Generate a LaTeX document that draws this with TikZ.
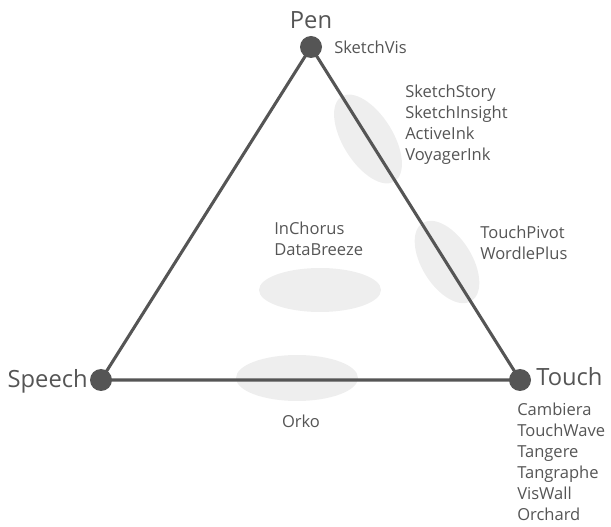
\documentclass[tikz,border=0pt]{standalone}
\usepackage{fontspec}
\setmainfont{Open Sans}
\begin{document}
\begin{tikzpicture}[x=0.75pt,y=-0.75pt,
  vert/.style={circle,fill=linec,inner sep=0pt,minimum size=16.5pt},
  edge/.style={draw=linec,line width=2.3pt},
  blob/.style={fill=blobc,draw=none},
  lbl/.style={text=textc,font=\fontsize{12.4}{15.75}\selectfont,inner sep=0pt,align=left},
  title/.style={text=textc,font=\fontsize{17.8}{20}\selectfont,inner sep=0pt}]
\definecolor{linec}{HTML}{555555}
\definecolor{blobc}{HTML}{EEEEEE}
\definecolor{textc}{HTML}{555555}
\useasboundingbox (0,0) rectangle (611,527);
% blobs
\fill[blob,rotate around={-58:(368,139)}] (368,139) ellipse (50 and 25);
\fill[blob,rotate around={-58:(447,262)}] (447,262) ellipse (46 and 25);
\fill[blob] (320,290) ellipse (61 and 22);
\fill[blob] (297,378) ellipse (61 and 23);
% vertices
\node[vert] (pen) at (311,47) {};
\node[vert] (speech) at (101,380) {};
\node[vert] (touch) at (520,380) {};
\draw[edge] (pen.center) -- (speech.center) -- (touch.center) -- cycle;
% titles
\node[title,anchor=south] (tpen) at (311,29) {Pen};
\node[title,anchor=east] (tspeech) at (88,381) {Speech};
\node[title,anchor=west] (ttouch) at (536,377) {Touch};
% labels
\node[lbl,anchor=west] (l1) at (334,47) {SketchVis};
\node[lbl,anchor=north west] (l2) at (405,85) {SketchStory\\SketchInsight\\ActiveInk\\VoyagerInk};
\node[lbl,anchor=north west] (l3) at (480,226) {TouchPivot\\WordlePlus};
\node[lbl,anchor=north west] (l4) at (274,222) {InChorus\\DataBreeze};
\node[lbl,anchor=center] (l5) at (301,421) {Orko};
\node[lbl,anchor=north west] (l6) at (517,403) {Cambiera\\TouchWave\\Tangere\\Tangraphe\\VisWall\\Orchard};
\end{tikzpicture}
\end{document}
